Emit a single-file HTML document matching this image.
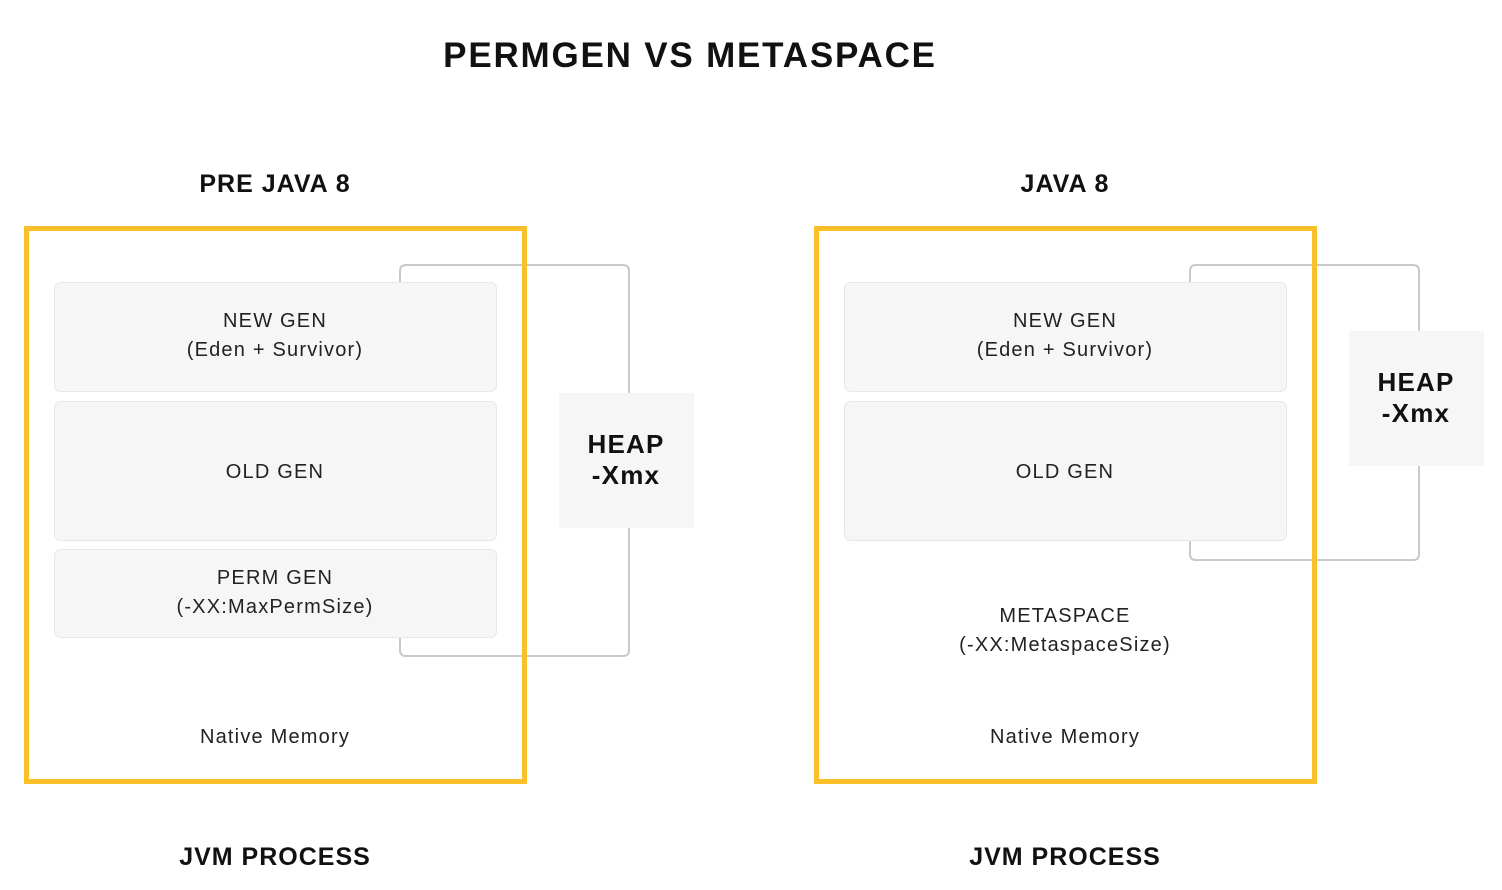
<!DOCTYPE html>
<html><head><meta charset="utf-8"><style>
html,body{margin:0;padding:0;background:#fff;}
svg{display:block;}
text{font-family:"Liberation Sans",Arial,sans-serif;fill:#111;}
.b{font-weight:bold;}
.n{font-size:20px;letter-spacing:1.2px;fill:#222;}
</style></head><body>
<svg width="1502" height="890" viewBox="0 0 1502 890" xmlns="http://www.w3.org/2000/svg">
<text x="690" y="67" text-anchor="middle" class="b" font-size="35" letter-spacing="1.8">PERMGEN VS METASPACE</text>
<text x="275" y="192" text-anchor="middle" class="b" font-size="25" letter-spacing="1">PRE JAVA 8</text>
<text x="1065" y="192" text-anchor="middle" class="b" font-size="25" letter-spacing="1">JAVA 8</text>
<text x="275" y="865" text-anchor="middle" class="b" font-size="25" letter-spacing="1">JVM PROCESS</text>
<text x="1065" y="865" text-anchor="middle" class="b" font-size="25" letter-spacing="1">JVM PROCESS</text>

<!-- left -->
<path d="M400 283 V271 Q400 265 406 265 H623 Q629 265 629 271 V650 Q629 656 623 656 H406 Q400 656 400 650 V637" fill="none" stroke="#c9c9c9" stroke-width="2"/>
<rect x="54.5" y="282.5" width="442" height="109" rx="6" fill="#f6f6f6" stroke="#e8e8e8"/>
<rect x="54.5" y="401.5" width="442" height="139" rx="6" fill="#f6f6f6" stroke="#e8e8e8"/>
<rect x="54.5" y="549.5" width="442" height="88" rx="6" fill="#f6f6f6" stroke="#e8e8e8"/>
<rect x="559" y="393" width="135" height="135" fill="#f6f6f6"/>
<rect x="26.5" y="228.5" width="498" height="553" fill="none" stroke="#fbbf2a" stroke-width="5"/>
<text x="275" y="327" text-anchor="middle" class="n">NEW GEN</text>
<text x="275" y="356" text-anchor="middle" class="n">(Eden + Survivor)</text>
<text x="275" y="478" text-anchor="middle" class="n">OLD GEN</text>
<text x="275" y="584" text-anchor="middle" class="n">PERM GEN</text>
<text x="275" y="613" text-anchor="middle" class="n">(-XX:MaxPermSize)</text>
<text x="275" y="743" text-anchor="middle" class="n">Native Memory</text>
<text x="626" y="453" text-anchor="middle" class="b" font-size="26" letter-spacing="1.2">HEAP</text>
<text x="626" y="484" text-anchor="middle" class="b" font-size="26" letter-spacing="1.2">-Xmx</text>

<!-- right -->
<path d="M1190 283 V271 Q1190 265 1196 265 H1413 Q1419 265 1419 271 V554 Q1419 560 1413 560 H1196 Q1190 560 1190 554 V540" fill="none" stroke="#c9c9c9" stroke-width="2"/>
<rect x="844.5" y="282.5" width="442" height="109" rx="6" fill="#f6f6f6" stroke="#e8e8e8"/>
<rect x="844.5" y="401.5" width="442" height="139" rx="6" fill="#f6f6f6" stroke="#e8e8e8"/>
<rect x="1349" y="331" width="135" height="135" fill="#f6f6f6"/>
<rect x="816.5" y="228.5" width="498" height="553" fill="none" stroke="#fbbf2a" stroke-width="5"/>
<text x="1065" y="327" text-anchor="middle" class="n">NEW GEN</text>
<text x="1065" y="356" text-anchor="middle" class="n">(Eden + Survivor)</text>
<text x="1065" y="478" text-anchor="middle" class="n">OLD GEN</text>
<text x="1065" y="622" text-anchor="middle" class="n">METASPACE</text>
<text x="1065" y="651" text-anchor="middle" class="n">(-XX:MetaspaceSize)</text>
<text x="1065" y="743" text-anchor="middle" class="n">Native Memory</text>
<text x="1416" y="391" text-anchor="middle" class="b" font-size="26" letter-spacing="1.2">HEAP</text>
<text x="1416" y="422" text-anchor="middle" class="b" font-size="26" letter-spacing="1.2">-Xmx</text>
</svg>
</body></html>
